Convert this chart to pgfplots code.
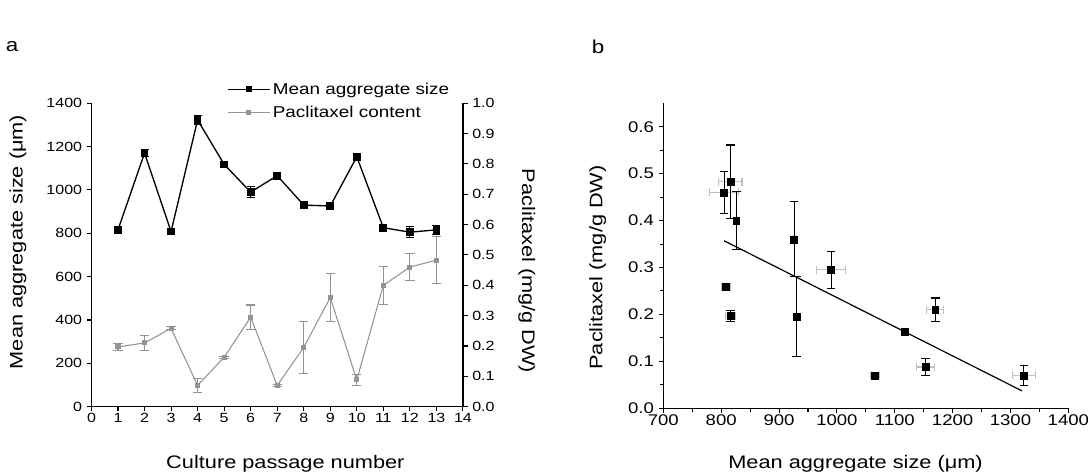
\documentclass[border=0pt]{standalone}
\usepackage{pgfplots}
\pgfplotsset{compat=1.18}
\usepackage{pgfplotstable}
\usepackage{fontspec}
\setmainfont{Liberation Sans}[FakeStretch=1.2]
\definecolor{pgray}{gray}{0.58}
\definecolor{xerr}{gray}{0.75}

\pgfplotstableread{
x size sizeerr pac pacerr
1 816 8 0.197 0.012
2 1170 15 0.210 0.025
3 808 8 0.258 0.005
4 1323 20 0.070 0.022
5 1118 5 0.163 0.003
6 990 25 0.295 0.040
7 1066 8 0.070 0.003
8 930 3 0.195 0.085
9 926 3 0.360 0.080
10 1153 15 0.088 0.018
11 826 5 0.400 0.062
12 805 25 0.460 0.045
13 816 20 0.483 0.078
}\dataA

\newcommand{\tickfontA}{\fontsize{10}{12}\selectfont}
\newcommand{\tickfontB}{\fontsize{11.6}{13}\selectfont}
\newcommand{\labfont}{\fontsize{13.6}{15}\selectfont}

\begin{document}
\begin{tikzpicture}
\path[use as bounding box] (0,0) rectangle (818.25pt,355.5pt);

% ---------- panel a, left axis ----------
\begin{axis}[
  at={(68.6pt,50.5pt)}, anchor=south west,
  scale only axis, width=278.6pt, height=227.55pt,
  xmin=0, xmax=14, ymin=0, ymax=1400,
  axis x line*=bottom, axis y line*=left,
  tick align=outside, major tick length=3.5pt,
  xtick={0,1,2,3,4,5,6,7,8,9,10,11,12,13,14},
  ytick={0,200,400,600,800,1000,1200,1400},
  /pgf/number format/assume math mode=true,
  /pgf/number format/1000 sep={},
  tick label style={font=\tickfontA},
  xticklabel style={yshift=2pt},
  axis line style={line width=0.9pt},
  every tick/.style={line width=0.8pt, black},
  xlabel={Culture passage number},
  ylabel={Mean aggregate size (μm)},
  xlabel style={at={(axis description cs:0.522,-0.205)}, anchor=base, font=\labfont},
  ylabel style={at={(axis description cs:-0.198,0.543)}, anchor=center, font=\labfont},
  clip=false,
]
\addplot[black, line width=1pt, mark=square*, mark size=2.4pt,
  error bars/.cd, y dir=both, y explicit,
  error bar style={black, line width=0.8pt},
  error mark options={rotate=90, black, mark size=3pt, line width=0.8pt}]
  table[x=x, y=size, y error=sizeerr]{\dataA};
\end{axis}

% ---------- panel a, right axis ----------
\begin{axis}[
  at={(68.6pt,50.5pt)}, anchor=south west,
  scale only axis, width=278.6pt, height=227.55pt,
  xmin=0, xmax=14, ymin=0, ymax=1,
  axis y line*=right, axis x line=none,
  tick align=outside, major tick length=3.5pt,
  ytick={0,0.1,0.2,0.3,0.4,0.5,0.6,0.7,0.8,0.9,1},
  /pgf/number format/assume math mode=true,
  yticklabel style={/pgf/number format/.cd, fixed, fixed zerofill, precision=1},
  tick label style={font=\tickfontA},
  axis line style={line width=0.9pt},
  every tick/.style={line width=0.8pt, black},
  ylabel={Paclitaxel (mg/g DW)},
  ylabel style={at={(axis description cs:1.172,0.447)}, anchor=center, rotate=180, font=\labfont},
  clip=false,
  legend style={at={(axis description cs:0.354,1.086)}, anchor=north west,
    draw=none, fill=none, font=\fontsize{11.8}{13}\selectfont, row sep=3.2pt,
    cells={anchor=west}},
  legend image code/.code={\draw[mark repeat=2,mark phase=2,#1] plot coordinates {(0cm,0cm) (0.55cm,0cm) (1.1cm,0cm)};},
]
\addlegendimage{black, line width=0.9pt, mark=square*, mark size=1.8pt}
\addlegendentry{Mean aggregate size}
\addplot[pgray, line width=0.8pt, mark=square*, mark size=1.5pt,
  error bars/.cd, y dir=both, y explicit,
  error bar style={pgray, line width=0.8pt},
  error mark options={rotate=90, pgray, mark size=3.5pt, line width=0.8pt}]
  table[x=x, y=pac, y error=pacerr]{\dataA};
\addlegendentry{Paclitaxel content}
\end{axis}

% ---------- panel b ----------
\begin{axis}[
  at={(497.5pt,49.3pt)}, anchor=south west,
  scale only axis, width=303.75pt, height=228.75pt,
  xmin=700, xmax=1400, ymin=0, ymax=0.65,
  axis x line*=bottom, axis y line*=left,
  tick align=outside, major tick length=3.5pt, minor tick length=2.5pt,
  xtick={700,800,900,1000,1100,1200,1300,1400},
  ytick={0,0.1,0.2,0.3,0.4,0.5,0.6},
  minor x tick num=1, minor y tick num=1,
  /pgf/number format/assume math mode=true,
  xticklabel style={/pgf/number format/1000 sep={}, yshift=2pt},
  yticklabel style={/pgf/number format/.cd, fixed, fixed zerofill, precision=1},
  tick label style={font=\tickfontB},
  axis line style={line width=0.9pt},
  every tick/.style={line width=0.8pt, black},
  xlabel={Mean aggregate size (μm)},
  ylabel={Paclitaxel (mg/g DW)},
  xlabel style={at={(axis description cs:0.4746,-0.199)}, anchor=base, font=\labfont},
  ylabel style={at={(axis description cs:-0.162,0.462)}, anchor=center, font=\labfont},
  clip=false,
]
\addplot[draw=none, mark=none,
  error bars/.cd, x dir=both, x explicit,
  error bar style={xerr, line width=0.8pt},
  error mark options={rotate=90, xerr, mark size=3pt, line width=0.8pt}]
  table[x=size, y=pac, x error=sizeerr]{\dataA};
\addplot[black, line width=0.9pt] coordinates {(805,0.357) (1320,0.037)};
\addplot[only marks, black, mark=square*, mark size=2.6pt,
  error bars/.cd, y dir=both, y explicit,
  error bar style={black, line width=0.8pt},
  error mark options={rotate=90, black, mark size=3.2pt, line width=0.8pt}]
  table[x=size, y=pac, y error=pacerr]{\dataA};
\end{axis}

\node[font=\fontsize{14}{16}\selectfont] at (9pt,320.25pt) {a};
\node[font=\fontsize{14}{16}\selectfont] at (448.5pt,320.25pt) {b};
\end{tikzpicture}
\end{document}
